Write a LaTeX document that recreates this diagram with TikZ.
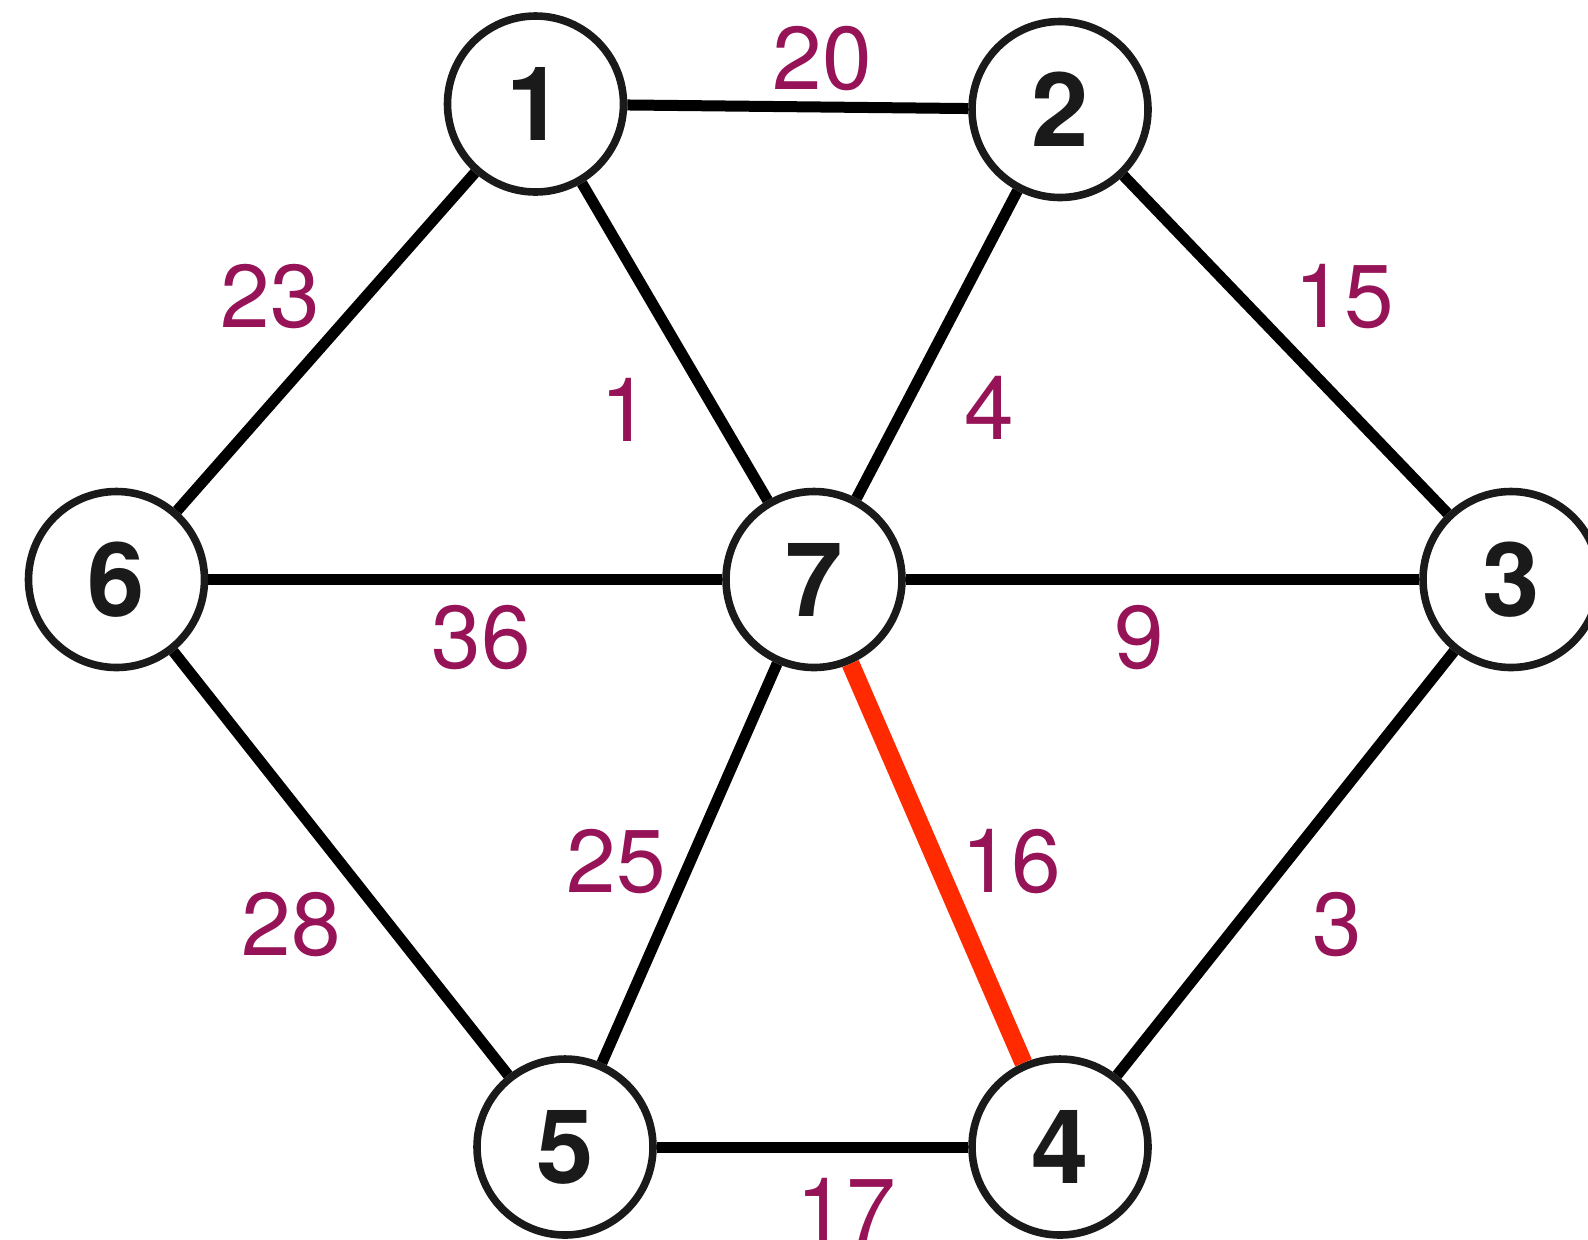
\documentclass[tikz,border=0pt]{standalone}
\usepackage{fontspec}
\setmainfont{TeX Gyre Heros}
\definecolor{lbl}{HTML}{951356}
\definecolor{ring}{HTML}{1A1A1A}
\definecolor{hot}{HTML}{FF2A00}
\begin{document}
\begin{tikzpicture}[x=0.5pt,y=-0.5pt,
  vtx/.style={circle,draw=ring,line width=3.8pt,fill=white,minimum size=88pt,inner sep=0pt,
    font=\fontsize{51.5}{55}\selectfont\bfseries,text=ring},
  wt/.style={inner sep=0pt,text=lbl,font=\fontsize{44.6}{50}\selectfont},
  edgeline/.style={line width=5.5pt,black},
  hotedge/.style={line width=9pt,hot}]
\useasboundingbox (0,0) rectangle (1588,1239);
\clip (0,0) rectangle (1588,1239);
\node[vtx] (n1) at (535.5,104) {1};
\node[vtx] (n2) at (1060,109.5) {2};
\node[vtx] (n3) at (1511,579.5) {3};
\node[vtx] (n4) at (1060,1147) {4};
\node[vtx] (n5) at (565,1147) {5};
\node[vtx] (n6) at (116.5,579.5) {6};
\node[vtx] (n7) at (814,579.5) {7};
\draw[edgeline] (n1) -- (n2);
\draw[edgeline] (n1) -- (n6);
\draw[edgeline] (n1) -- (n7);
\draw[edgeline] (n2) -- (n7);
\draw[edgeline] (n2) -- (n3);
\draw[edgeline] (n6) -- (n7);
\draw[edgeline] (n7) -- (n3);
\draw[edgeline] (n6) -- (n5);
\draw[edgeline] (n7) -- (n5);
\draw[edgeline] (n3) -- (n4);
\draw[edgeline] (n5) -- (n4);
\draw[hotedge] (n7) -- (n4);
\node[wt] (w12) at (822,59) {20};
\node[wt] (w16) at (270,297) {23};
\node[wt] (w17) at (625,410) {1};
\node[wt] (w27) at (989,408) {4};
\node[wt] (w23) at (1344,297) {15};
\node[wt] (w67) at (481,638) {36};
\node[wt] (w73) at (1139,638) {9};
\node[wt] (w75) at (616,862) {25};
\node[wt] (w74) at (1011,862) {16};
\node[wt] (w65) at (291,925) {28};
\node[wt] (w34) at (1337,925) {3};
\node[wt] (w54) at (846,1210) {17};
\end{tikzpicture}
\end{document}
